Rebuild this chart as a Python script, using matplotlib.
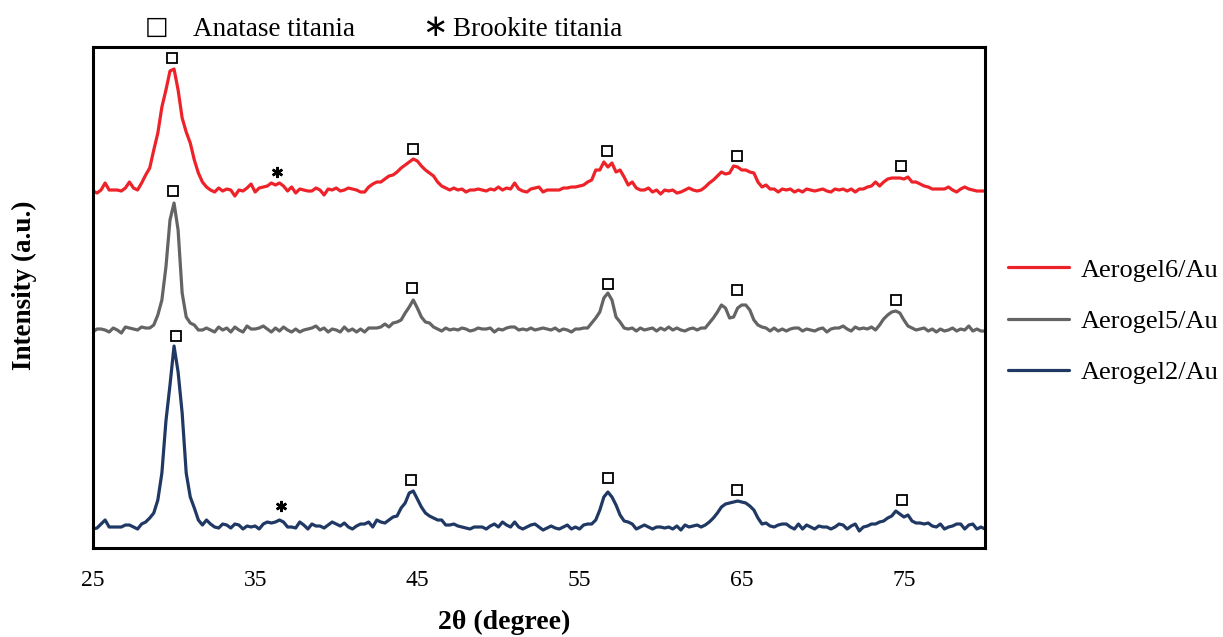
import numpy as np
import matplotlib
matplotlib.use("Agg")
import matplotlib.pyplot as plt

# XRD patterns (2theta grid, step 0.25 deg), intensity in a.u.
two_theta = np.linspace(25, 80, 221)

aerogel6 = [
    357, 355, 358, 365, 358, 358, 358, 357, 360, 366, 360, 358, 365, 373, 380, 398, 415, 441, 458, 477,
    479, 458, 430, 416, 405, 388, 375, 366, 361, 358, 356, 360, 357, 359, 358, 352, 358, 357, 360, 364,
    356, 360, 361, 362, 365, 363, 365, 362, 357, 361, 355, 359, 358, 357, 357, 360, 358, 353, 359, 358,
    360, 357, 358, 360, 359, 358, 356, 356, 361, 364, 366, 366, 369, 372, 373, 376, 380, 383, 386, 389,
    387, 382, 378, 375, 372, 366, 362, 360, 358, 360, 358, 359, 356, 358, 358, 359, 358, 357, 359, 358,
    361, 358, 360, 359, 365, 359, 357, 356, 359, 360, 361, 356, 358, 358, 358, 358, 360, 360, 361, 361,
    362, 363, 366, 368, 378, 378, 386, 381, 385, 376, 378, 371, 363, 366, 360, 358, 358, 360, 356, 358,
    354, 358, 357, 358, 355, 356, 358, 360, 358, 357, 358, 361, 365, 368, 372, 376, 374, 375, 382, 381,
    378, 378, 376, 375, 366, 361, 363, 359, 359, 356, 359, 358, 359, 356, 358, 356, 359, 358, 357, 358,
    359, 357, 356, 359, 358, 359, 357, 359, 356, 359, 359, 361, 362, 366, 362, 366, 369, 370, 370, 370,
    369, 371, 366, 366, 364, 362, 361, 359, 359, 359, 359, 361, 358, 356, 359, 361, 359, 358, 357, 357,
    357,
]

aerogel5 = [
    216, 219, 219, 218, 216, 220, 218, 215, 221, 220, 219, 218, 221, 220, 220, 223, 233, 248, 281, 328,
    345, 318, 255, 231, 225, 223, 218, 218, 220, 218, 216, 221, 218, 220, 216, 221, 218, 216, 222, 219,
    219, 220, 222, 219, 216, 220, 217, 221, 218, 216, 219, 216, 218, 219, 220, 222, 218, 220, 216, 219,
    218, 216, 221, 217, 219, 216, 219, 216, 220, 220, 220, 221, 224, 221, 225, 226, 228, 235, 241, 248,
    240, 231, 226, 225, 221, 219, 217, 220, 218, 219, 218, 220, 219, 217, 218, 220, 219, 219, 220, 216,
    219, 218, 220, 221, 221, 218, 219, 218, 220, 218, 219, 220, 219, 218, 220, 217, 219, 218, 216, 219,
    219, 220, 220, 225, 230, 236, 250, 255, 248, 231, 226, 220, 219, 220, 217, 220, 218, 219, 220, 217,
    220, 218, 221, 218, 220, 218, 217, 219, 220, 218, 220, 220, 225, 230, 236, 243, 240, 230, 231, 240,
    243, 243, 238, 228, 223, 221, 220, 217, 220, 217, 219, 217, 219, 220, 220, 217, 219, 218, 217, 219,
    220, 216, 219, 220, 220, 222, 219, 217, 221, 219, 220, 219, 221, 218, 223, 229, 233, 236, 237, 235,
    228, 222, 220, 218, 219, 220, 217, 219, 216, 219, 217, 218, 220, 217, 219, 218, 222, 217, 219, 217,
    217,
]

aerogel2 = [
    19, 20, 24, 28, 21, 21, 21, 21, 23, 23, 21, 19, 24, 26, 30, 35, 48, 75, 127, 163,
    202, 176, 135, 75, 51, 40, 28, 23, 28, 24, 21, 20, 24, 23, 20, 24, 23, 19, 22, 21,
    22, 19, 24, 26, 25, 26, 28, 26, 21, 21, 20, 26, 23, 19, 24, 22, 22, 20, 23, 26,
    24, 22, 25, 21, 19, 22, 24, 24, 26, 21, 28, 26, 25, 28, 31, 32, 40, 45, 55, 57,
    49, 41, 35, 32, 30, 28, 28, 23, 23, 24, 22, 21, 20, 19, 21, 21, 21, 19, 22, 24,
    21, 26, 23, 21, 26, 21, 19, 21, 23, 24, 21, 18, 20, 22, 20, 19, 21, 23, 19, 21,
    19, 23, 24, 24, 28, 38, 51, 56, 51, 43, 33, 27, 26, 24, 19, 21, 23, 21, 19, 21,
    21, 20, 21, 19, 22, 18, 23, 21, 22, 23, 21, 23, 26, 30, 35, 41, 44, 45, 46, 47,
    46, 45, 42, 38, 30, 24, 25, 22, 21, 23, 24, 24, 21, 19, 24, 19, 23, 21, 19, 22,
    21, 21, 19, 21, 24, 23, 19, 22, 24, 17, 21, 22, 24, 24, 26, 27, 30, 32, 37, 34,
    31, 33, 27, 25, 25, 24, 25, 22, 21, 24, 19, 21, 22, 24, 24, 19, 23, 24, 19, 21,
    19,
]

# peak markers (position, label height)
anatase_x = [29.87, 44.72, 56.67, 64.68, 74.85,
             29.93, 44.66, 56.73, 64.74, 74.54,
             30.11, 44.60, 56.73, 64.74, 74.91]
anatase_y = [490, 399, 397, 392, 382,
             357, 260, 264, 258, 248,
             212, 68, 70, 58, 48]
brookite_x = [36.34, 36.58]
brookite_y = [376, 42]

labels = ["Aerogel6/Au", "Aerogel5/Au", "Aerogel2/Au"]
colors = ["#EE2229", "#646464", "#1F3864"]
xticks = [25, 35, 45, 55, 65, 75]

plt.rcParams["font.family"] = ["Liberation Serif", "DejaVu Sans"]

fig = plt.figure(figsize=(12.23, 6.37), dpi=100)
ax = fig.add_axes([0.076, 0.1397, 0.7294, 0.7865])

for series, lab, col in zip([aerogel6, aerogel5, aerogel2], labels, colors):
    ax.plot(two_theta, series, color=col, lw=2.3, label=lab,
            solid_joinstyle="round", solid_capstyle="round")

ax.plot(anatase_x, anatase_y, ls="none", marker="s", ms=6.8,
        mfc="white", mec="black", mew=1.3)
ax.plot(brookite_x, brookite_y, ls="none", marker=(6, 2, 0), ms=8,
        mec="black", mew=1.8)

ax.set_xlim(25, 80)
ax.set_ylim(0, 501)
ax.set_xticks(xticks)
ax.set_yticks([])
ax.tick_params(axis="x", length=0, pad=16, labelsize=17)
for sp in ax.spines.values():
    sp.set_linewidth(2.2)
    sp.set_color("black")

fig.text(504 / 1223, 1 - 622 / 637, "2θ (degree)", ha="center", va="center",
         fontsize=20, fontweight="bold")
fig.text(24 / 1223, 1 - 285 / 637, "Intensity (a.u.)", ha="center", va="center",
         rotation=90, fontsize=19.5, fontweight="bold")

# legend for the peak symbols above the plot
fig.text(157 / 1223, 1 - 27 / 637, "□", family="DejaVu Sans", ha="center",
         va="center", fontsize=18)
fig.text(193 / 1223, 1 - 36 / 637, "Anatase titania", va="baseline", fontsize=19.5)
fig.text(435 / 1223, 1 - 27 / 637, "∗", family="DejaVu Sans", ha="center",
         va="center", fontsize=22)
fig.text(453 / 1223, 1 - 36 / 637, "Brookite titania", va="baseline", fontsize=19.5)

ax.legend(loc="center left", bbox_to_anchor=(1008 / 1223, 1 - 321 / 637),
          bbox_transform=fig.transFigure, frameon=False, fontsize=19,
          handlelength=2.3, handletextpad=0.45, labelspacing=1.05,
          borderpad=0, borderaxespad=0)

fig.savefig("out.png", dpi=100)
